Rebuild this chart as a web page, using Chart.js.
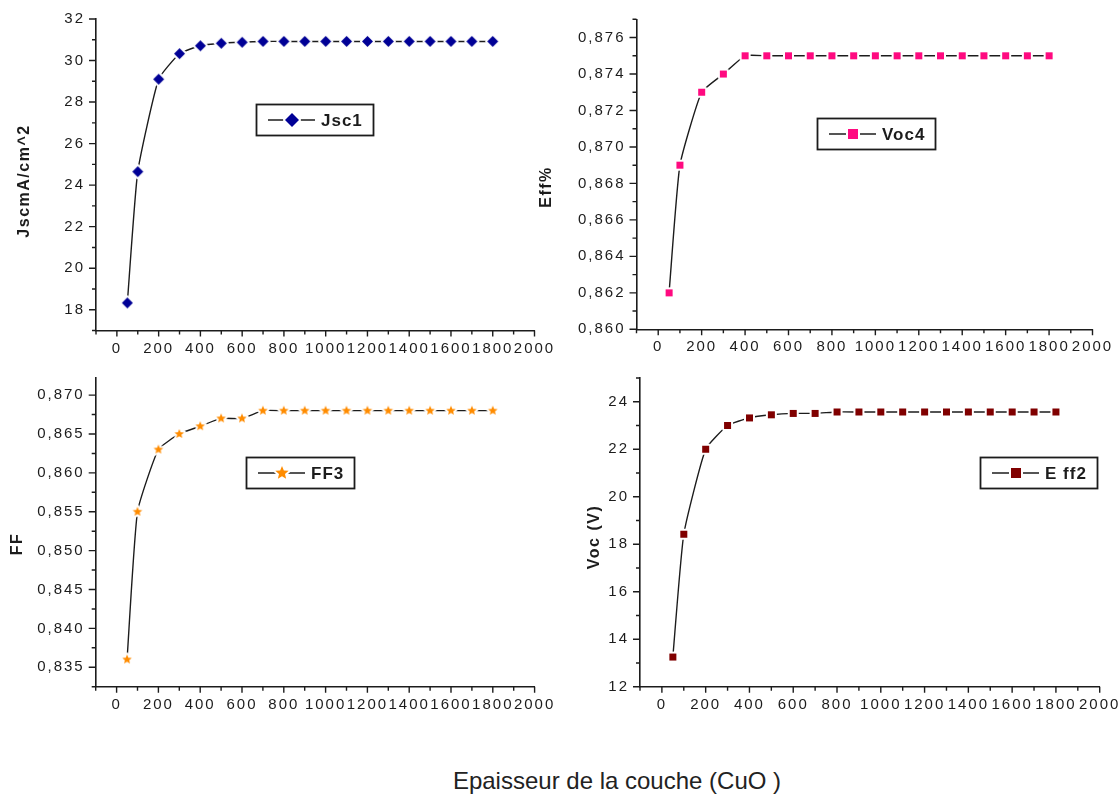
<!DOCTYPE html>
<html>
<head>
<meta charset="utf-8">
<script src="https://cdn.jsdelivr.net/npm/chart.js@4.4.1/dist/chart.umd.min.js"></script>
<style>
  html, body { margin: 0; padding: 0; background: #fff; overflow: hidden; }
  #page { position: relative; width: 1118px; height: 794px; overflow: hidden; background: #fff; }
  canvas { position: absolute; }
  #xtitle {
    position: absolute; left: 0; width: 1234px; top: 767px;
    text-align: center; line-height: 28px;
    font: 24px Arial, "Liberation Sans", sans-serif; color: #222;
  }
</style>
</head>
<body>
<div id="page">
  <canvas id="c1" width="560" height="365" style="left:0;top:0"></canvas>
  <canvas id="c2" width="600" height="365" style="left:530px;top:0"></canvas>
  <canvas id="c3" width="560" height="365" style="left:0;top:365px"></canvas>
  <canvas id="c4" width="600" height="365" style="left:530px;top:365px"></canvas>
  <div id="xtitle">Epaisseur de la couche (CuO )</div>
</div>
<script>
const FONT = 'Arial, "Liberation Sans", sans-serif';
const INK = '#1c1c1c';

// layer thickness (x) shared by all four panels
const thickness = [50, 100, 200, 300, 400, 500, 600, 700, 800, 900, 1000, 1100, 1200, 1300, 1400, 1500, 1600, 1700, 1800];

const jsc1 = [18.33, 24.65, 29.1, 30.33, 30.71, 30.83, 30.88, 30.92, 30.92, 30.92, 30.92, 30.92, 30.92, 30.92, 30.92, 30.92, 30.92, 30.92, 30.92];
const voc4 = [0.862, 0.869, 0.873, 0.874, 0.875, 0.875, 0.875, 0.875, 0.875, 0.875, 0.875, 0.875, 0.875, 0.875, 0.875, 0.875, 0.875, 0.875, 0.875];
const ff3 = [0.836, 0.855, 0.863, 0.865, 0.866, 0.867, 0.867, 0.868, 0.868, 0.868, 0.868, 0.868, 0.868, 0.868, 0.868, 0.868, 0.868, 0.868, 0.868];
const eff2 = [13.25, 18.42, 22.0, 23.0, 23.32, 23.45, 23.51, 23.51, 23.57, 23.57, 23.57, 23.57, 23.57, 23.57, 23.57, 23.57, 23.57, 23.57, 23.57];

// x axis: every 100 gets a tick, every 200 gets a label
const xTicks = [-100, 0, 100, 200, 300, 400, 500, 600, 700, 800, 900, 1000, 1100, 1200, 1300, 1400, 1500, 1600, 1700, 1800, 1900, 2000];
const xLabels = [0, 200, 400, 600, 800, 1000, 1200, 1400, 1600, 1800, 2000];

const jscTicks = [17, 18, 19, 20, 21, 22, 23, 24, 25, 26, 27, 28, 29, 30, 31, 32];
const jscLabels = [18, 20, 22, 24, 26, 28, 30, 32];
const vocTicks = [0.860, 0.861, 0.862, 0.863, 0.864, 0.865, 0.866, 0.867, 0.868, 0.869, 0.870, 0.871, 0.872, 0.873, 0.874, 0.875, 0.876, 0.877];
const vocLabels = [0.860, 0.862, 0.864, 0.866, 0.868, 0.870, 0.872, 0.874, 0.876];
const ffTicks = [0.8325, 0.835, 0.8375, 0.840, 0.8425, 0.845, 0.8475, 0.850, 0.8525, 0.855, 0.8575, 0.860, 0.8625, 0.865, 0.8675, 0.870];
const ffLabels = [0.835, 0.840, 0.845, 0.850, 0.855, 0.860, 0.865, 0.870];
const effTicks = [12, 13, 14, 15, 16, 17, 18, 19, 20, 21, 22, 23, 24, 25];
const effLabels = [12, 14, 16, 18, 20, 22, 24];

function onList(v, list) {
  return list.some(t => Math.abs(t - v) < 1e-9);
}

const commaFmt = v => v.toFixed(3).replace('.', ',');
const intFmt = v => String(Math.round(v));

// filled marker drawn into a small canvas, with a white rim so the line stops short of it
function markerImage(shape, size, color) {
  const halo = 2;
  const dim = Math.ceil(size + halo * 2 + 2);
  const c = document.createElement('canvas');
  c.width = dim; c.height = dim;
  const g = c.getContext('2d');
  const m = dim / 2, r = size / 2;
  g.beginPath();
  if (shape === 'diamond') {
    g.moveTo(m, m - r); g.lineTo(m + r, m); g.lineTo(m, m + r); g.lineTo(m - r, m);
  } else if (shape === 'square') {
    g.rect(m - r, m - r, size, size);
  } else {
    for (let i = 0; i < 10; i++) {
      const a = -Math.PI / 2 + i * Math.PI / 5;
      const rr = i % 2 ? r * 0.45 : r;
      const px = m + rr * Math.cos(a), py = m + rr * Math.sin(a);
      if (i === 0) g.moveTo(px, py); else g.lineTo(px, py);
    }
  }
  g.closePath();
  g.lineJoin = 'round';
  g.strokeStyle = '#fff'; g.lineWidth = halo * 2; g.stroke();
  g.fillStyle = color; g.fill();
  return c;
}

// tick marks (long/short), rotated y title and the boxed legend
const originDecor = {
  id: 'originDecor',
  beforeUpdate(chart) { chart.ctx.letterSpacing = '2px'; },
  beforeDraw(chart) { chart.ctx.letterSpacing = '2px'; },
  afterDraw(chart, args, opts) {
    const ctx = chart.ctx;
    const xs = chart.scales.x, ys = chart.scales.y;

    ctx.save();
    ctx.strokeStyle = INK;
    ctx.lineWidth = 1.4;
    ctx.beginPath();
    xTicks.forEach(v => {
      const px = xs.getPixelForValue(v);
      const len = onList(v, xLabels) ? 6 : 4;
      ctx.moveTo(px, xs.top); ctx.lineTo(px, xs.top + len);
    });
    opts.yTicks.forEach(v => {
      const py = ys.getPixelForValue(v);
      const len = onList(v, opts.yLabels) ? 7 : 4;
      ctx.moveTo(ys.right, py); ctx.lineTo(ys.right - len, py);
    });
    ctx.stroke();

    ctx.font = 'bold 16px ' + FONT;
    ctx.letterSpacing = '1.5px';
    ctx.fillStyle = INK;
    ctx.textAlign = 'center';
    ctx.textBaseline = 'middle';
    ctx.translate(opts.title.x, opts.title.y);
    ctx.rotate(-Math.PI / 2);
    ctx.fillText(opts.title.text, 0, 0);
    ctx.restore();

    const lg = opts.legend;
    ctx.save();
    ctx.font = 'bold 17px ' + FONT;
    ctx.letterSpacing = '1px';
    const tw = ctx.measureText(lg.text).width;
    const w = Math.round(65 + tw + 10), h = 31;
    ctx.strokeStyle = INK;
    ctx.lineWidth = 1.8;
    ctx.strokeRect(lg.x + 0.5, lg.y + 0.5, w, h);
    const cy = lg.y + h / 2 + 0.5;
    ctx.lineWidth = 1.4;
    ctx.beginPath();
    ctx.moveTo(lg.x + 12, cy); ctx.lineTo(lg.x + 59, cy);
    ctx.stroke();
    ctx.drawImage(lg.marker, Math.round(lg.x + 36 - lg.marker.width / 2), Math.round(cy - lg.marker.height / 2));
    ctx.fillStyle = INK;
    ctx.textAlign = 'left';
    ctx.textBaseline = 'middle';
    ctx.fillText(lg.text, lg.x + 65, cy + 1);
    ctx.restore();
  }
};

function panel(canvasId, o) {
  return new Chart(document.getElementById(canvasId), {
    type: 'line',
    data: {
      datasets: [{
        label: o.legend.text,
        data: thickness.map((x, i) => ({ x, y: o.values[i] })),
        borderColor: INK,
        borderWidth: 1.4,
        tension: 0.15,
        pointStyle: o.marker,
        pointRadius: 5,
        pointHoverRadius: 5
      }]
    },
    options: {
      responsive: false,
      animation: false,
      devicePixelRatio: 1,
      layout: { padding: { top: o.pad.top, right: o.pad.right, left: 0, bottom: 0 } },
      plugins: {
        legend: { display: false },
        tooltip: { enabled: false },
        originDecor: {
          yTicks: o.yTicks,
          yLabels: o.yLabels,
          title: o.title,
          legend: o.legend
        }
      },
      scales: {
        x: {
          type: 'linear',
          min: -100,
          max: 2000,
          afterBuildTicks: s => { s.ticks = xTicks.map(v => ({ value: v })); },
          afterFit: s => { s.height = o.xHeight; },
          grid: { display: true, drawOnChartArea: false, drawTicks: true, tickLength: 6, tickColor: 'rgba(0,0,0,0)' },
          border: { display: true, color: INK, width: 1.6 },
          ticks: {
            autoSkip: false, maxRotation: 0, padding: 3, color: INK,
            font: { family: FONT, size: 15 },
            callback: v => onList(v, xLabels) ? String(v) : ''
          }
        },
        y: {
          type: 'linear',
          min: o.yMin,
          max: o.yMax,
          afterBuildTicks: s => { s.ticks = o.yTicks.map(v => ({ value: v })); },
          afterFit: s => { s.width = o.yWidth; },
          grid: { display: true, drawOnChartArea: false, drawTicks: true, tickLength: 7, tickColor: 'rgba(0,0,0,0)' },
          border: { display: true, color: INK, width: 1.6 },
          ticks: {
            autoSkip: false, padding: 4, color: INK,
            font: { family: FONT, size: 15 },
            callback: v => onList(v, o.yLabels) ? o.fmt(v) : ''
          }
        }
      }
    },
    plugins: [originDecor]
  });
}

panel('c1', {
  values: jsc1, yMin: 17, yMax: 32, yTicks: jscTicks, yLabels: jscLabels, fmt: intFmt,
  marker: markerImage('diamond', 11, '#000096'),
  yWidth: 96, xHeight: 34.5, pad: { top: 19, right: 25.5 },
  title: { text: 'JscmA/cm^2', x: 24.5, y: 181 },
  legend: { text: 'Jsc1', x: 256, y: 104, marker: markerImage('diamond', 14, '#000096') }
});

panel('c2', {
  values: voc4, yMin: 0.860, yMax: 0.877, yTicks: vocTicks, yLabels: vocLabels, fmt: commaFmt,
  marker: markerImage('square', 7, '#ff0a80'),
  yWidth: 106.5, xHeight: 35.7, pad: { top: 19.3, right: 37.5 },
  title: { text: 'Eff%', x: 17, y: 187 },
  legend: { text: 'Voc4', x: 287, y: 118, marker: markerImage('square', 10, '#ff0a80') }
});

panel('c3', {
  values: ff3, yMin: 0.8325, yMax: 0.8722, yTicks: ffTicks, yLabels: ffLabels, fmt: commaFmt,
  marker: markerImage('star', 10, '#ff8c00'),
  yWidth: 95.7, xHeight: 43.3, pad: { top: 10.7, right: 25.4 },
  title: { text: 'FF', x: 18, y: 179 },
  legend: { text: 'FF3', x: 246, y: 92, marker: markerImage('star', 14, '#ff8c00') }
});

panel('c4', {
  values: eff2, yMin: 12, yMax: 25, yTicks: effTicks, yLabels: effLabels, fmt: intFmt,
  marker: markerImage('square', 7, '#800000'),
  yWidth: 110, xHeight: 43.3, pad: { top: 10.7, right: 30.3 },
  title: { text: 'Voc (V)', x: 65, y: 172 },
  legend: { text: 'E ff2', x: 450, y: 92, marker: markerImage('square', 10, '#800000') }
});
</script>
</body>
</html>
